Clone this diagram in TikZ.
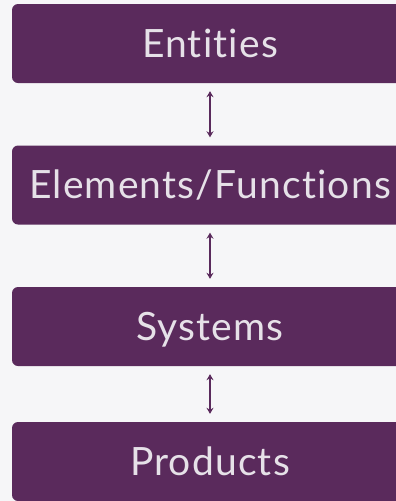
\documentclass[tikz,border=0pt]{standalone}
\usepackage{fontspec}
\setmainfont{Lato}[Ligatures={NoCommon,NoRequired,NoContextual},LetterSpace=3]
\usetikzlibrary{arrows.meta}
\definecolor{plum}{HTML}{5A2A5C}
\definecolor{boxtext}{HTML}{E6E1E8}
\definecolor{paper}{HTML}{F6F6F8}
\begin{document}
\begin{tikzpicture}[x=1pt,y=-1pt,
    box/.style={fill=plum,text=boxtext,rounded corners=6pt,minimum width=396pt,
        minimum height=79pt,inner sep=0pt,text height=27pt,text depth=0pt,
        font=\fontsize{39}{42}\selectfont},
    link/.style={draw=plum,line width=1.6pt,
        {Stealth[length=6pt,width=7pt]}-{Stealth[length=6pt,width=7pt]},
        shorten >=8pt,shorten <=8pt}]
\useasboundingbox (0,0) rectangle (396,501);
\clip (0,0) rectangle (396,501);
\fill[paper] (0,0) rectangle (396,501);
\begin{scope}
    \node[box] (E) at (210,43.5) {Entities};
    \node[box] (F) at (210,185) {Elements/Functions};
    \node[box] (S) at (210,326.5) {Systems};
    \node[box] (P) at (210,461.5) {Products};
    \path (E) edge[link] (F);
    \path (F) edge[link] (S);
    \path (S) edge[link] (P);
\end{scope}
\end{tikzpicture}
\end{document}
